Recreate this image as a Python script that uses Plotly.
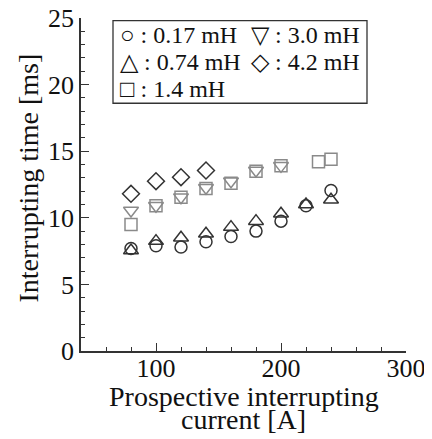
import plotly.graph_objects as go

current_a = [80, 100, 120, 140, 160, 180, 200, 220, 240]
t_017 = [7.7, 7.9, 7.8, 8.2, 8.6, 9.0, 9.75, 10.9, 12.05]
t_074 = [7.55, 8.25, 8.5, 8.8, 9.3, 9.75, 10.3, 11.0, 11.35]
current_14 = [80, 100, 120, 140, 160, 180, 200, 230, 240]
t_14 = [9.5, 10.9, 11.55, 12.2, 12.6, 13.5, 13.9, 14.2, 14.4]
current_30 = [80, 100, 120, 140, 160, 180, 200]
t_30 = [10.55, 10.9, 11.55, 12.25, 12.75, 13.55, 13.9]
current_42 = [80, 100, 120, 140]
t_42 = [11.8, 12.75, 13.05, 13.55]

legend_items = [
    ("○", " : 0.17 mH"), ("▽", " : 3.0 mH"),
    ("△", " : 0.74 mH"), ("◇", " : 4.2 mH"),
    ("□", " : 1.4 mH"),
]

FONT = "Liberation Serif, Times New Roman, serif"
DARK = "#333333"
GRAY = "#8a8a8a"

fig = go.Figure()

def add(x, y, symbol, size, color, name):
    fig.add_trace(go.Scatter(
        x=x, y=y, mode="markers", name=name, showlegend=False,
        marker=dict(symbol=symbol, size=size, color=color,
                    line=dict(color=color, width=1.5)),
    ))

add(current_14, t_14, "square-open", 12, GRAY, "1.4 mH")
add(current_30, t_30, "triangle-down-open", 13, GRAY, "3.0 mH")
add(current_42, t_42, "diamond-open", 13, DARK, "4.2 mH")
add(current_a, t_074, "triangle-up-open", 13, DARK, "0.74 mH")
add(current_a, t_017, "circle-open", 12, DARK, "0.17 mH")

# legend box
fig.add_shape(type="rect", xref="x", yref="y", x0=65.6, x1=268.8, y0=18.6, y1=24.8,
              line=dict(color=DARK, width=1.3), fillcolor="white", layer="below")

col_x = [69.5, 174.5]
row_y = [23.7, 21.7, 19.7]
for i, (sym, txt) in enumerate(legend_items):
    r, c = divmod(i, 2)
    fig.add_annotation(x=col_x[c], y=row_y[r], xref="x", yref="y",
                       text=sym + txt, showarrow=False, xanchor="left", yanchor="middle",
                       font=dict(family=FONT, size=24, color="#111"))

# axis titles
fig.add_annotation(x=0.5, y=-0.136, xref="paper", yref="paper",
                   text="Prospective interrupting", showarrow=False,
                   xanchor="center", yanchor="middle",
                   font=dict(family=FONT, size=28, color="#111"))
fig.add_annotation(x=0.5, y=-0.207, xref="paper", yref="paper",
                   text="current [A]", showarrow=False,
                   xanchor="center", yanchor="middle",
                   font=dict(family=FONT, size=28, color="#111"))
fig.add_annotation(x=-0.163, y=0.518, xref="paper", yref="paper",
                   text="Interrupting time [ms]", showarrow=False, textangle=-90,
                   xanchor="center", yanchor="middle",
                   font=dict(family=FONT, size=28, color="#111"))

axis_common = dict(ticks="inside", ticklen=8, tickwidth=1.3, tickcolor=DARK, tickangle=0,
                   showline=True, linecolor=DARK, linewidth=1.5, showgrid=False,
                   zeroline=False, automargin=False,
                   tickfont=dict(family=FONT, size=26, color="#111"))

fig.update_layout(
    width=424, height=431,
    margin=dict(l=73, r=26, t=10, b=88),
    paper_bgcolor="white", plot_bgcolor="white",
    font=dict(family=FONT, size=22, color="#111"),
    xaxis=dict(range=[40, 300], tickmode="linear", tick0=0, dtick=100,
               ticklabelstandoff=-7,
               minor=dict(ticks="inside", dtick=20, tick0=0, ticklen=4, tickcolor=DARK, tickwidth=1.2),
               **axis_common),
    yaxis=dict(range=[0, 25], tickmode="linear", tick0=0, dtick=5,
               minor=dict(ticks="inside", dtick=1, tick0=0, ticklen=4, tickcolor=DARK, tickwidth=1.2),
               **axis_common),
)

fig.write_html("out.html")
